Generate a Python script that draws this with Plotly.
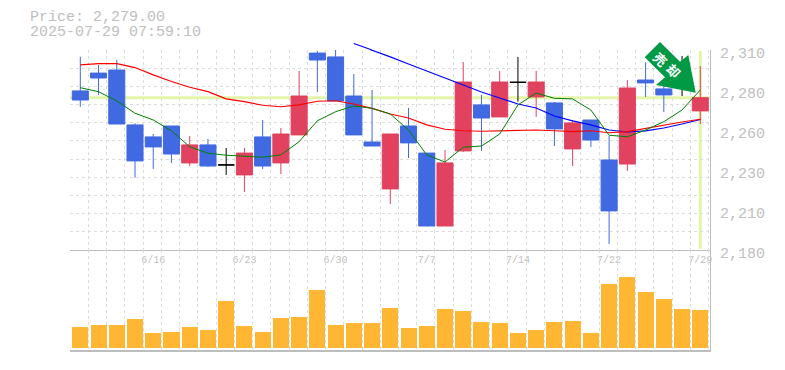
import plotly.graph_objects as go

dates = ["6/10","6/11","6/12","6/13","6/16","6/17","6/18","6/19","6/20","6/23","6/24","6/25","6/26","6/27","6/30",
         "7/1","7/2","7/3","7/4","7/7","7/8","7/9","7/10","7/11","7/14","7/15","7/16","7/17","7/18","7/22","7/23","7/24","7/25","7/28","7/29"]
opens = [2283.4,2295.0,2297.0,2261.3,2253.5,2260.6,2236.6,2248.3,2235.3,2228.8,2253.5,2236.6,2254.8,2308.0,2305.5,
         2280.1,2250.2,2219.7,2260.6,2243.0,2195.6,2244.4,2274.3,2266.5,2289.0,2279.5,2275.6,2245.7,2264.5,2238.5,2235.9,2290.5,2284.7,2293.8,2270.4]
closes = [2277.5,2291.8,2261.9,2237.9,2247.0,2242.4,2248.3,2234.6,2235.3,2243.0,2234.6,2255.4,2280.1,2303.5,2276.9,
          2254.8,2247.6,2255.4,2249.6,2195.6,2236.6,2289.2,2265.8,2289.2,2289.0,2289.2,2258.7,2262.6,2251.5,2205.4,2285.3,2288.6,2280.8,2293.8,2279.0]
highs = [2305.6,2300.3,2303.5,2262.4,2255.4,2260.6,2254.1,2252.2,2246.3,2246.3,2264.5,2259.3,2296.4,2309.4,2310.0,
         2294.4,2284.0,2255.4,2272.3,2243.0,2245.0,2302.2,2280.8,2296.4,2305.5,2296.4,2276.2,2264.5,2264.5,2254.1,2290.5,2302.0,2290.5,2306.1,2299.6]
lows = [2273.1,2280.8,2261.9,2227.0,2232.7,2236.6,2234.6,2234.0,2228.8,2217.7,2232.7,2229.4,2254.8,2282.7,2276.9,
        2254.8,2247.6,2209.9,2239.8,2195.6,2195.6,2243.7,2244.4,2266.5,2276.4,2266.5,2247.6,2234.6,2247.0,2183.9,2231.4,2279.5,2269.7,2280.1,2261.9]
volumes = [21,23,23,29,15,16,21,18,47,22,16,30,31,58,23,25,25,40,20,22,39,37,26,25,15,18,26,27,15,64,71,56,49,39,38]
ma_short = [2285.5,2282.9,2276.9,2268.9,2264.5,2257.5,2247.1,2242.9,2241.6,2241.1,2240.3,2241.8,2250.4,2264.0,2269.9,
            2273.6,2272.1,2268.4,2258.0,2241.8,2237.2,2246.8,2247.6,2255.4,2274.3,2282.0,2278.6,2278.2,2271.0,2254.6,2253.6,2258.0,2263.4,2271.0,2284.0]
ma_mid = [2300.3,2301.2,2301.2,2298.6,2293.8,2289.5,2285.8,2282.9,2278.2,2276.4,2274.1,2273.1,2274.3,2276.7,2277.0,
          2274.9,2272.1,2268.4,2265.8,2261.3,2258.5,2257.5,2257.2,2257.4,2257.8,2258.0,2257.5,2256.9,2257.5,2256.2,2256.9,2259.1,2261.3,2263.2,2265.0]
ma_long = [None]*15 + [2314.2,2310.0,2305.5,2300.9,2296.4,2291.8,2287.3,2282.7,2278.8,2274.9,2272.3,2267.1,2263.9,2261.3,2258.0,2256.7,2257.4,2259.3,2261.9,2264.8]
last_price = 2279.0
y_tick_vals = [2180,2206,2232,2258,2284,2310]
y_tick_text = ["2,180","2,210","2,230","2,260","2,280","2,310"]
x_tick_idx = [4,9,14,19,24,29,34]

# The page keeps the browser's 8px body margin, so the figure is 16px smaller than the window.
PAGE = 8
W, H = 785 - 2 * PAGE, 370 - 2 * PAGE
def fx(px): return (px - PAGE) / W
def fy(py): return 1 - (py - PAGE) / H

Y_MIN, Y_MAX, Y_BOTTOM, Y_TOP = 2180, 2310, 250, 50
def price_to_paper(p):
    return fy(Y_BOTTOM - (p - Y_MIN) * (Y_BOTTOM - Y_TOP) / (Y_MAX - Y_MIN))

GRAY = "#c0c0c0"
GRID = "#dcdcdc"
RED = "#e0425f"
BLUE = "#4169e1"
xs = list(range(len(dates)))
xr = [(70 - 80.3) / 18.235, (710 - 80.3) / 18.235]
xgrid = [k - 0.55 for k in range(36)]
ygrid = [Y_MIN + k * (Y_MAX - Y_MIN) / 11 for k in range(12)]

fig = go.Figure()

for name, col, width, vals in [("MA long", "#0000ff", 1.2, ma_long), ("MA mid", "#ff0000", 1.2, ma_mid), ("MA short", "#008000", 1, ma_short)]:
    fig.add_trace(go.Scatter(x=xs, y=vals, mode="lines", name=name, line=dict(color=col, width=width),
                             cliponaxis=False, xaxis="x", yaxis="y"))

def subset(test):
    idx = [i for i in xs if test(opens[i], closes[i])]
    return dict(x=idx, open=[opens[i] for i in idx], high=[highs[i] for i in idx],
                low=[lows[i] for i in idx], close=[closes[i] for i in idx])

for name, col, test in [("up", RED, lambda o, c: c > o), ("down", BLUE, lambda o, c: c < o), ("flat", "#000000", lambda o, c: c == o)]:
    style = dict(line=dict(color=col, width=1), fillcolor=col)
    fig.add_trace(go.Candlestick(name=name, increasing=style, decreasing=style, whiskerwidth=0,
                                 xaxis="x", yaxis="y", **subset(test)))

fig.add_trace(go.Bar(x=xs, y=volumes, width=0.88, marker=dict(color="#ffb733", line=dict(width=0)), xaxis="x2", yaxis="y2", name="Volume"))

minor_x = dict(tickvals=xgrid, showgrid=True, gridcolor=GRID, griddash="3px,3px", gridwidth=1, ticks="")

shapes = [
    dict(type="line", xref="x", yref="y", x0=xr[0], x1=xr[1], y0=last_price, y1=last_price, layer="below",
         line=dict(color="#e3f5a8", width=3)),
    dict(type="line", xref="x", yref="paper", x0=xs[-1], x1=xs[-1], y0=fy(249), y1=fy(51), layer="below",
         line=dict(color="#e3f5a8", width=3)),
    # The long average starts above the price pane, where a trace line would be clipped.
    dict(type="line", xref="x", yref="paper", x0=15, x1=16, y0=price_to_paper(ma_long[15]), y1=price_to_paper(ma_long[16]),
         layer="above", line=dict(color="#0000ff", width=1.2)),
]
arrow_px = [(695.7,92.7),(688.3,55),(680,61.7),(660,42),(644.7,57.3),(665,77.3),(656,85)]
path = "M " + " L ".join(f"{fx(x):.5f},{fy(y):.5f}" for x, y in arrow_px) + " Z"
shapes.append(dict(type="path", xref="paper", yref="paper", path=path, fillcolor="#009944", line=dict(width=0), layer="above"))

def label(text, x, y, size, color, **kw):
    return dict(text=text, x=fx(x), y=fy(y), xref="paper", yref="paper", showarrow=False,
                font=dict(family="Noto Sans CJK JP" if color == "#ffffff" else "Liberation Mono", size=size, color=color), **kw)

annotations = [
    label("Price: 2,279.00", 28, 18, 15, GRAY, xanchor="left", yanchor="middle"),
    label("2025-07-29 07:59:10", 28, 33, 15, GRAY, xanchor="left", yanchor="middle"),
    label("<b>売</b>", 660.7, 59.3, 13, "#ffffff", xanchor="center", yanchor="middle", textangle=45),
    label("<b>却</b>", 673.3, 71, 13, "#ffffff", xanchor="center", yanchor="middle", textangle=45),
]

fig.update_layout(
    width=W, height=H, margin=dict(l=0, r=0, t=0, b=0, autoexpand=False), autosize=False,
    paper_bgcolor="#ffffff", plot_bgcolor="#ffffff", showlegend=False,
    boxgap=0.12, boxgroupgap=0, bargap=0, hovermode=False,
    shapes=shapes, annotations=annotations,
    xaxis=dict(domain=[fx(70), fx(710)], range=xr, anchor="y", rangeslider=dict(visible=False), automargin=False,
               tickvals=x_tick_idx, ticktext=[dates[i] for i in x_tick_idx], showgrid=False, ticks="",
               tickfont=dict(family="Liberation Mono", size=10, color=GRAY),
               showline=True, linecolor="#bdbdbd", linewidth=1, minor=minor_x, zeroline=False),
    yaxis=dict(domain=[fy(Y_BOTTOM), fy(Y_TOP)], range=[Y_MIN, Y_MAX], side="right", anchor="x", automargin=False,
               tickvals=y_tick_vals, ticktext=y_tick_text, showgrid=False, ticks="", ticklabelshift=3, ticklabelstandoff=6,
               tickfont=dict(family="Liberation Mono", size=15, color=GRAY),
               showline=True, linecolor="#bdbdbd", linewidth=1, zeroline=False,
               minor=dict(tickvals=ygrid, showgrid=True, gridcolor=GRID, griddash="3px,3px", gridwidth=1, ticks="")),
    xaxis2=dict(domain=[fx(70), fx(710)], range=xr, anchor="y2", automargin=False, showticklabels=False, showgrid=False, ticks="",
                tickvals=x_tick_idx, showline=True, linecolor="#bdbdbd", linewidth=2, minor=minor_x, zeroline=False),
    yaxis2=dict(domain=[fy(350), fy(250)], range=[-2, 98], side="right", anchor="x2", automargin=False, showticklabels=False,
                showgrid=False, ticks="", showline=True, linecolor="#bdbdbd", linewidth=1, zeroline=False),
)
fig.write_html("out.html")
